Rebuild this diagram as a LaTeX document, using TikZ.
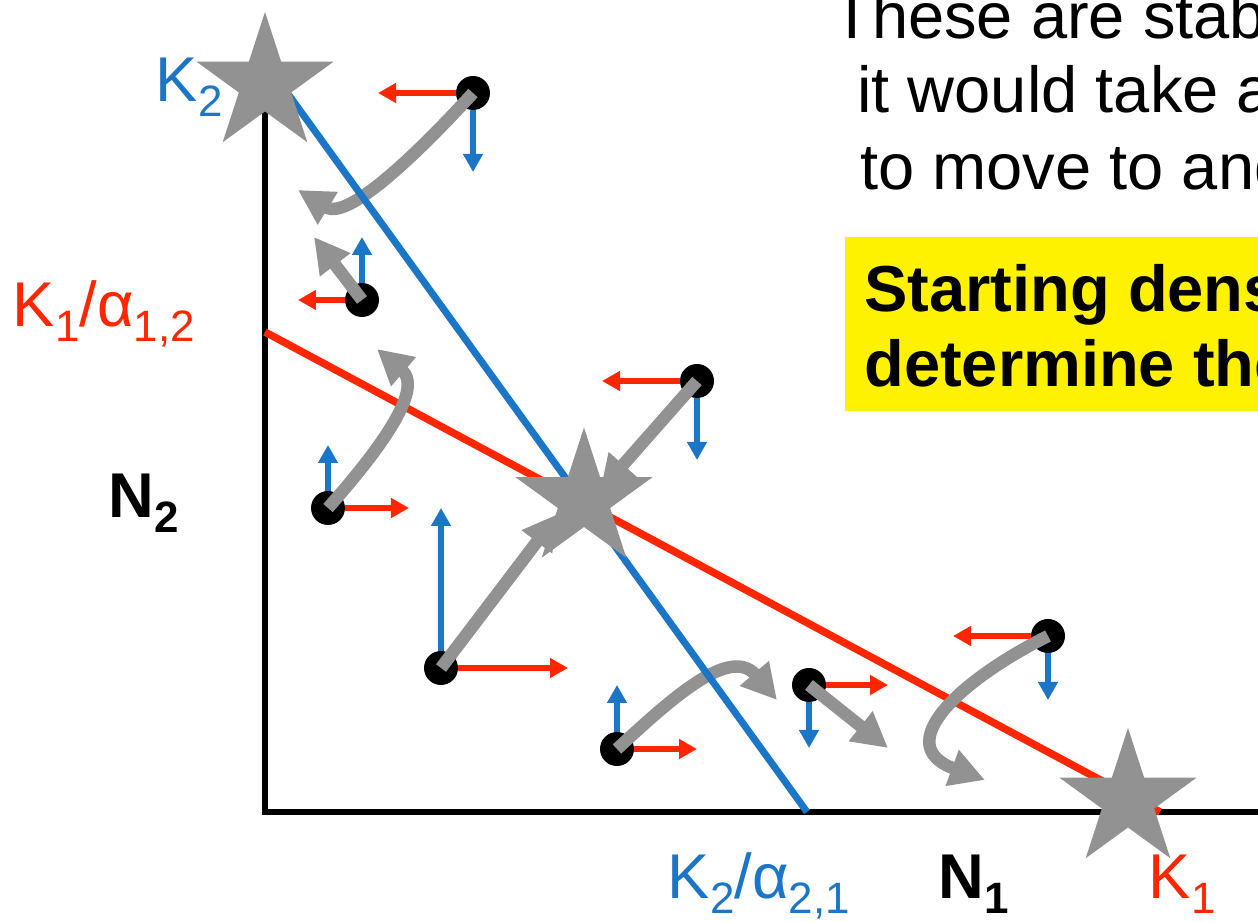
\documentclass[tikz,border=0pt]{standalone}
\usepackage{fontspec}
\setmainfont{Liberation Sans}
\usepackage{xcolor}
\usepackage{tikz}
\usetikzlibrary{arrows.meta,shapes.geometric}
\definecolor{kblue}{HTML}{1C76C8}
\definecolor{kred}{HTML}{FF2600}
\definecolor{sgray}{HTML}{929292}
\newcommand{\lo}[1]{\raisebox{-8.5pt}{\fontsize{25}{25}\selectfont #1}}

\begin{document}
\begin{tikzpicture}[
dot/.style={circle,fill=black,minimum size=0.68cm,inner sep=0},
redarr/.style={kred,line width=0.12cm,-{Triangle[length=0.36cm,width=0.38cm]}},
bluearr/.style={kblue,line width=0.12cm,-{Triangle[length=0.36cm,width=0.38cm]}},
grayarr/.style={sgray,line width=0.25cm,-{Triangle[length=0.7cm,width=0.72cm]}},
kstar/.style={star,star points=5,star point ratio=2.618,minimum size=2.88cm,inner sep=0,fill=sgray},
lbl/.style={anchor=base west,inner sep=0,font=\fontsize{36}{36}\selectfont},
txt/.style={anchor=base west,inner sep=0,font=\fontsize{37}{37}\selectfont}]
\useasboundingbox(-5.30,-2.20)rectangle(19.86,16.24);
\coordinate(k2top)at(0,15.0);
\coordinate(k2end)at(10.84,0);
\coordinate(k1top)at(0,9.60);
\coordinate(k1end)at(17.90,0);
\draw[line width=0.13cm](0,14.3)--(0,0)--(20,0);
\draw[kred,line width=0.15cm](k1top)--(k1end);
\foreach \n/\x/\y/\r/\b in {1/4.16/14.38/-1.90/-1.58,2/1.94/10.24/-1.28/1.26,
3/8.64/8.62/-1.90/-1.58,4/1.26/6.08/1.62/1.26,5/3.52/2.88/2.54/3.20,
6/7.04/1.26/1.60/1.28,7/10.88/2.54/1.58/-1.26,8/15.66/3.52/-1.90/-1.28}{
\node[dot](d\n)at(\x,\y){};
\path(d\n.center)++(\r,0)coordinate(r\n)(d\n.center)++(0,\b)coordinate(b\n);
\draw[redarr](d\n)--(r\n);
\draw[bluearr](d\n)--(b\n);
}
\coordinate(g1)at(0.66,12.44);
\coordinate(g2)at(0.98,11.50);
\coordinate(g3)at(6.70,6.42);
\coordinate(g4)at(2.24,9.26);
\coordinate(g5)at(5.86,5.96);
\coordinate(g6)at(10.24,2.24);
\coordinate(g7)at(12.46,1.28);
\coordinate(g8)at(14.40,0.64);
\draw[grayarr](d1.center)..controls(3.30,13.44)and(1.70,11.80)..(g1);
\draw[grayarr](d2.center)--(g2);
\draw[grayarr](d3.center)--(g3);
\draw[grayarr](d4.center)..controls(2.20,7.14)and(3.20,8.44)..(g4);
\draw[grayarr](d5.center)--(g5);
\draw[grayarr](d6.center)..controls(8.10,2.24)and(9.30,3.34)..(g6);
\draw[grayarr](d7.center)--(g7);
\draw[grayarr](d8.center)..controls(13.90,2.64)and(12.50,1.34)..(g8);
\draw[kblue,line width=0.14cm](k2top)--(k2end);
\node[kstar](k2star)at(0,14.56){};
\node[kstar](eqstar)at(6.38,6.25){};
\node[kstar](k1star)at(17.26,0.24){};
\node[lbl,text=kblue](k2lab)at(-2.19,14.20){K\lo{2}};
\node[lbl,text=kred](k1alab)at(-5.05,9.70){K\lo{1}/α\lo{1,2}};
\node[lbl,font=\fontsize{36}{36}\selectfont\bfseries](n2lab)at(-3.13,5.88){N\lo{2}};
\node[lbl,text=kblue](k2alab)at(8.05,-1.74){K\lo{2}/α\lo{2,1}};
\node[lbl,font=\fontsize{36}{36}\selectfont\bfseries](n1lab)at(13.47,-1.74){N\lo{1}};
\node[lbl,text=kred](k1lab)at(17.67,-1.74){K\lo{1}};
\node[txt](note1)at(11.34,15.46){These are stab};
\node[txt](note2)at(11.84,13.98){it would take a};
\node[txt](note3)at(11.90,12.44){to move to and};
\fill[yellow](11.60,11.50)rectangle(20,8.02);
\node[txt,font=\fontsize{37}{37}\selectfont\bfseries](hint1)at(11.98,10.00){Starting dens};
\node[txt,font=\fontsize{37}{37}\selectfont\bfseries](hint2)at(11.98,8.50){determine the};
\end{tikzpicture}
\end{document}
